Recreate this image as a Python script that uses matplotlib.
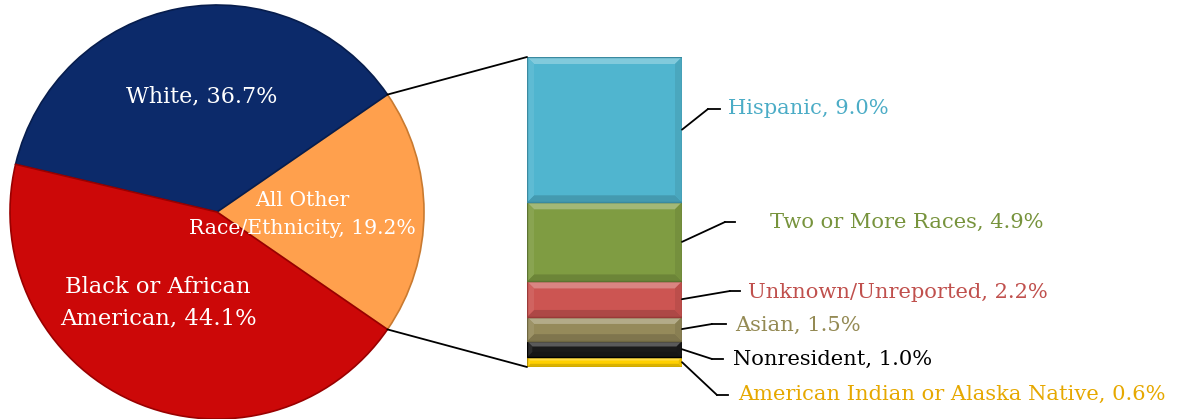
import numpy as np
import matplotlib
matplotlib.use("Agg")
import matplotlib.pyplot as plt
from matplotlib.patches import ConnectionPatch, Polygon
from matplotlib.lines import Line2D
from matplotlib.colors import to_rgb

# pie: main groups (drawn counter-clockwise starting with "All Other")
pie_labels = ["All Other\nRace/Ethnicity, 19.2%", "White, 36.7%", "Black or African\nAmerican, 44.1%"]
pie_values = [19.2, 36.7, 44.1]
pie_colors = ["#ffa04d", "#0c2a6a", "#cc0808"]
pie_edges = ["#c97a30", "#071d4d", "#990000"]

# stacked bar: breakdown of "All Other", bottom to top
bar_names = ["American Indian or Alaska Native", "Nonresident", "Asian",
             "Unknown/Unreported", "Two or More Races", "Hispanic"]
bar_values = [0.6, 1.0, 1.5, 2.2, 4.9, 9.0]
bar_colors = ["#ffd000", "#1a1a1a", "#958a5a", "#cc5552", "#7f9c42", "#50b5cf"]
bar_edges = ["#b89400", "#000000", "#6e6640", "#9a3a38", "#5c7330", "#3a8aa0"]
text_colors = ["#e6a800", "#000000", "#948a54", "#c0504d", "#77933c", "#4bacc6"]

W, H = 1178, 419
fig = plt.figure(figsize=(W / 100, H / 100), dpi=100)
fig.patch.set_facecolor("white")
FONT = "DejaVu Serif"


def mix(c, other, t):
    c, o = np.array(to_rgb(c)), np.array(to_rgb(other))
    return tuple(c * (1 - t) + o * t)


# ---- pie ----
cx, cy, r = 217, 212, 207
axp = fig.add_axes([(cx - r) / W, (H - cy - r) / H, 2 * r / W, 2 * r / H])
start = -pie_values[0] / 2 * 3.6
wedges, _ = axp.pie(pie_values, colors=pie_colors, startangle=start, counterclock=True,
                    radius=1, wedgeprops=dict(linewidth=1.2))
for w, ec in zip(wedges, pie_edges):
    w.set_edgecolor(ec)
axp.set_xlim(-1, 1); axp.set_ylim(-1, 1); axp.set_aspect("equal"); axp.axis("off")

# label positions inside the pie (pie data coords)
pie_text_pos = [(0.413, -0.012), (-0.072, 0.556), (-0.285, -0.437)]
pie_text_size = [14.7, 16, 16.3]
for lab, (x, y), fs in zip(pie_labels, pie_text_pos, pie_text_size):
    axp.text(x, y, lab, ha="center", va="center", color="white", fontsize=fs,
             family=FONT, linespacing=1.55)

# ---- stacked bar ----
bx0, bx1, by0, by1 = 527, 682, 57, 367
axb = fig.add_axes([bx0 / W, (H - by1) / H, (bx1 - bx0) / W, (by1 - by0) / H])
bottoms = np.concatenate([[0], np.cumsum(bar_values)[:-1]])
bars = axb.bar([0.5] * len(bar_values), bar_values, bottom=bottoms, width=1.0,
               color=bar_colors, edgecolor=bar_edges, linewidth=1.2)
axb.set_xlim(0, 1); axb.set_ylim(0, sum(bar_values)); axb.axis("off")

# soft bevel on each segment
px_per_unit = (by1 - by0) / sum(bar_values)
for rect, c in zip(bars, bar_colors):
    x0, y0 = rect.get_x(), rect.get_y()
    x1, y1 = x0 + rect.get_width(), y0 + rect.get_height()
    bpx = min(7, rect.get_height() * px_per_unit * 0.33)
    dy = bpx / px_per_unit
    dx = bpx / (bx1 - bx0)
    faces = [([(x0, y1), (x1, y1), (x1 - dx, y1 - dy), (x0 + dx, y1 - dy)], mix(c, "white", 0.28)),
             ([(x0, y0), (x1, y0), (x1 - dx, y0 + dy), (x0 + dx, y0 + dy)], mix(c, "black", 0.15)),
             ([(x0, y0), (x0, y1), (x0 + dx, y1 - dy), (x0 + dx, y0 + dy)], mix(c, "white", 0.08)),
             ([(x1, y0), (x1, y1), (x1 - dx, y1 - dy), (x1 - dx, y0 + dy)], mix(c, "black", 0.08))]
    for pts, fc in faces:
        axb.add_patch(Polygon(pts, closed=True, facecolor=fc, edgecolor="none"))
    axb.add_patch(Polygon([(x0, y0), (x1, y0), (x1, y1), (x0, y1)], closed=True,
                          facecolor="none", edgecolor=rect.get_edgecolor(), lw=1.0))

# lines joining the "All Other" slice to the bar
theta = np.deg2rad(start)
for sgn, yb in [(-1, sum(bar_values)), (1, 0)]:
    cp = ConnectionPatch(xyA=(np.cos(theta * sgn), np.sin(theta * sgn)), coordsA=axp.transData,
                         xyB=(0, yb), coordsB=axb.transData, color="black", lw=1.3)
    fig.add_artist(cp)

# leader lines and labels (figure pixels from top-left: elbow x, elbow y, end x, text x, text y)
label_layout = [(717, 395, 728, 738, 394), (712, 359, 723, 733, 359), (712, 324, 726, 735, 325),
                (730, 291, 740, 748, 292), (725, 222, 735, 770, 222), (708, 109, 720, 728, 108)]
for name, v, b, tc, (ex, ey, end, tx, ty) in zip(bar_names, bar_values, bottoms, text_colors, label_layout):
    cp = ConnectionPatch(xyA=(1, b + v / 2), coordsA=axb.transData,
                         xyB=(ex, H - ey), coordsB="figure pixels", color="black", lw=1.3)
    fig.add_artist(cp)
    fig.add_artist(Line2D([ex / W, end / W], [(H - ey) / H] * 2, color="black", lw=1.3,
                          transform=fig.transFigure))
    fig.text(tx / W, (H - ty) / H, f"{name}, {v:.1f}%", color=tc, fontsize=15.1,
             family=FONT, ha="left", va="center")

fig.savefig("out.png", dpi=100)
